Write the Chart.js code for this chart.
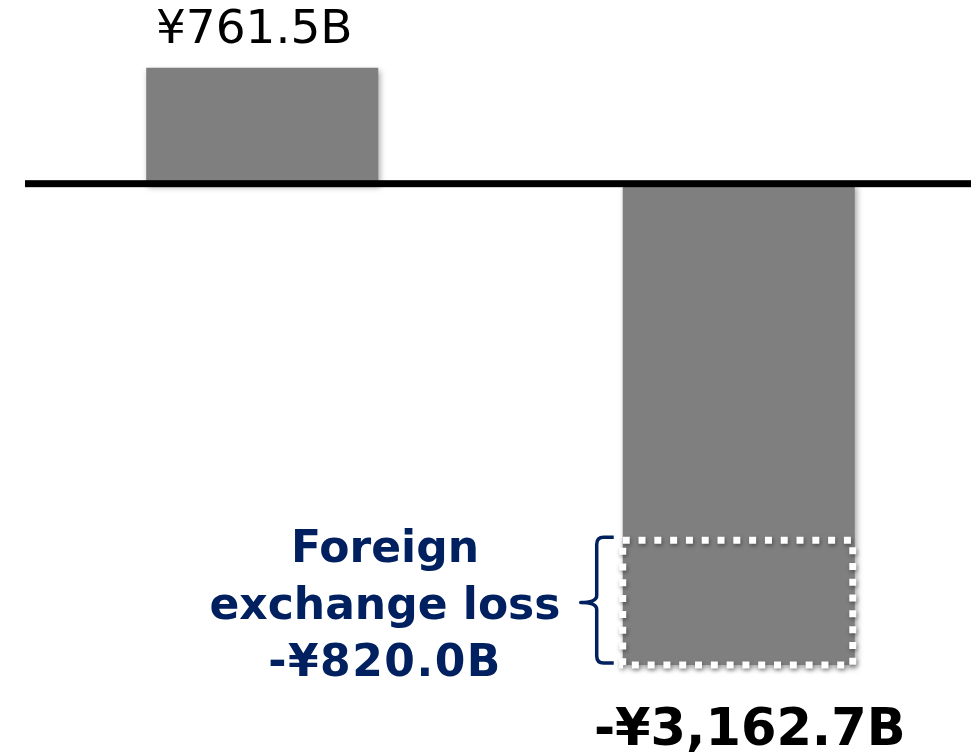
<!DOCTYPE html>
<html>
<head>
<meta charset="utf-8">
<script src="https://cdn.jsdelivr.net/npm/chart.js@4"></script>
<style>
  html, body { margin: 0; padding: 0; background: #fff; overflow: hidden; }
  canvas { display: block; }
</style>
</head>
<body>
<canvas id="chart" width="977" height="753"></canvas>
<script>
// values in billions of yen
const categories = ['Before', 'After'];
const values = [761.5, -3162.7];
const valueLabels = ['¥761.5B', '-¥3,162.7B'];
const fxLoss = -820.0;
const fxLines = ['Foreign', 'exchange loss', '-¥820.0B'];

const GREY = '#7f7f7f';
const NAVY = '#002060';

const extras = {
  id: 'extras',
  beforeDatasetsDraw(chart) {
    const ctx = chart.ctx;
    ctx.save();
    ctx.shadowColor = 'rgba(0,0,0,0.35)';
    ctx.shadowBlur = 6;
    ctx.shadowOffsetX = 2;
    ctx.shadowOffsetY = 3;
  },
  afterDatasetsDraw(chart) {
    const ctx = chart.ctx;
    ctx.restore();
    const y = chart.scales.y;
    const bars = chart.getDatasetMeta(0).data;
    const y0 = y.getPixelForValue(0);

    // zero line
    ctx.save();
    ctx.fillStyle = '#000';
    ctx.fillRect(chart.chartArea.left + 1, y0 - 3.5, chart.chartArea.right - chart.chartArea.left, 7);
    ctx.restore();

    // dotted box = fx loss part of the negative bar
    const b = bars[1];
    const half = b.width / 2;
    const top = y.getPixelForValue(values[1] - fxLoss);
    const bot = y.getPixelForValue(values[1]);
    ctx.save();
    ctx.shadowColor = 'rgba(0,0,0,0.4)';
    ctx.shadowBlur = 4;
    ctx.shadowOffsetX = 1;
    ctx.shadowOffsetY = 2;
    ctx.strokeStyle = '#fff';
    ctx.lineWidth = 7;
    ctx.setLineDash([7, 8.8]);
    ctx.strokeRect(b.x - half, top, half * 2 - 2, bot - top);
    ctx.restore();

    // brace
    const bx = b.x - half - 26;
    const mid = (top + bot) / 2;
    ctx.save();
    ctx.strokeStyle = NAVY;
    ctx.lineWidth = 3.5;
    ctx.lineJoin = 'round';
    ctx.beginPath();
    ctx.moveTo(bx + 17, top - 3);
    ctx.lineTo(bx + 7, top - 3);
    ctx.quadraticCurveTo(bx, top - 3, bx, top + 4);
    ctx.lineTo(bx, mid - 7);
    ctx.quadraticCurveTo(bx, mid, bx - 16, mid);
    ctx.quadraticCurveTo(bx, mid, bx, mid + 7);
    ctx.lineTo(bx, bot - 9);
    ctx.quadraticCurveTo(bx, bot - 2, bx + 7, bot - 2);
    ctx.lineTo(bx + 17, bot - 2);
    ctx.stroke();
    ctx.restore();

    // labels
    ctx.save();
    ctx.textAlign = 'center';
    ctx.textBaseline = 'alphabetic';
    ctx.fillStyle = '#000';
    ctx.font = '47px "DejaVu Sans"';
    ctx.fillText(valueLabels[0], bars[0].x - 8, bars[0].y - 25);
    ctx.font = 'bold 51px "DejaVu Sans"';
    ctx.fillText(valueLabels[1], bars[1].x + 11, bot + 80);

    ctx.fillStyle = NAVY;
    ctx.font = 'bold 44px "DejaVu Sans"';
    const cx = 385;
    fxLines.forEach((t, i) => {
      ctx.letterSpacing = i === 2 ? '1.5px' : '0px';
      ctx.fillText(t, cx, mid + 16 + (i - 1) * 57);
    });
    ctx.restore();
  }
};

new Chart(document.getElementById('chart'), {
  type: 'bar',
  data: {
    labels: categories,
    datasets: [{
      data: values,
      backgroundColor: GREY,
      borderWidth: 0,
      categoryPercentage: 1,
      barPercentage: 0.487
    }]
  },
  options: {
    responsive: false,
    animation: false,
    layout: { padding: { left: 24, right: 0, top: 0, bottom: 0 } },
    plugins: { legend: { display: false }, tooltip: { enabled: false } },
    scales: {
      x: { display: false },
      y: { display: false, min: -3741, max: 1207 }
    }
  },
  plugins: [extras]
});
</script>
</body>
</html>
